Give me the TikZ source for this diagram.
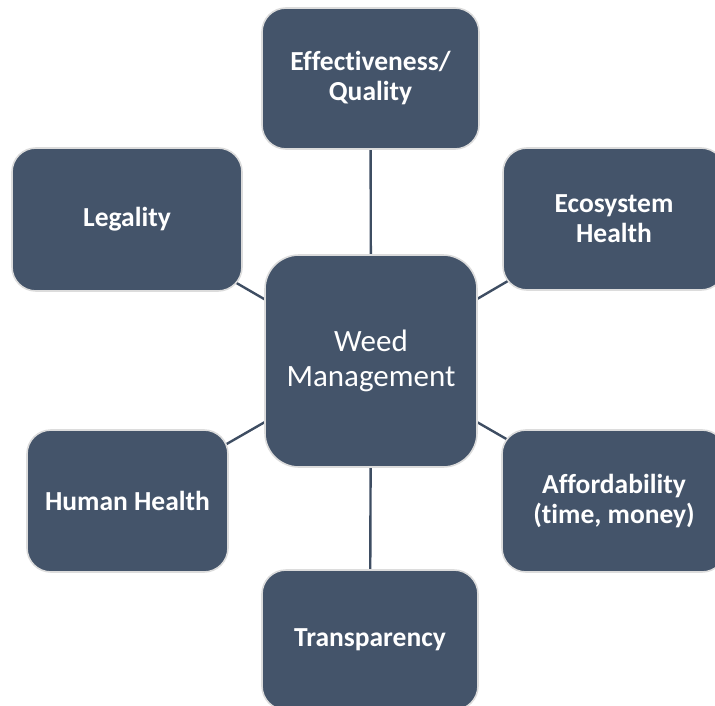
\documentclass[tikz,border=0pt]{standalone}
\usepackage{fontspec}
\setmainfont{Carlito}[Ligatures=NoCommon]
\usetikzlibrary{backgrounds}
\definecolor{boxfill}{HTML}{44546A}
\definecolor{boxedge}{HTML}{DCDCDC}
\definecolor{linkcol}{HTML}{3E4D62}
\tikzset{
  outerbox/.style={draw=boxedge, line width=1.6pt, fill=boxfill, rounded corners=24pt,
    text=white, align=center, inner sep=0pt,
    font=\fontsize{27.5}{30}\selectfont\bfseries},
  centerbox/.style={draw=boxedge, line width=1.6pt, fill=boxfill, rounded corners=34pt,
    text=white, align=center, inner sep=0pt, minimum width=212pt, minimum height=212pt,
    font=\fontsize{31}{35}\selectfont},
  link/.style={draw=linkcol, line width=2.4pt}
}
\begin{document}
\begin{tikzpicture}[x=1pt,y=-1pt]
\useasboundingbox (0,0) rectangle (715,706);
\clip (0,0) rectangle (715,706);
\node[centerbox] (wm) at (371,361) {Weed\\Management};
\node[outerbox, minimum width=217pt, minimum height=141pt] (eff) at (370.5,78.5) {Effectiveness/\\Quality};
\node[outerbox, minimum width=230pt, minimum height=143pt] (leg) at (127,219.5) {Legality};
\node[outerbox, minimum width=222pt, minimum height=142pt] (eco) at (614,219) {Ecosystem\\Health};
\node[outerbox, minimum width=201pt, minimum height=142pt] (hum) at (127.5,501) {Human Health};
\node[outerbox, minimum width=224pt, minimum height=142pt] (aff) at (614,501) {Affordability\\(time, money)};
\node[outerbox, minimum width=216pt, minimum height=140pt] (tra) at (370,640) {Transparency};
\begin{scope}[on background layer]
\draw[link] (wm.center) -- (eff.center);
\draw[link] (wm.center) -- (leg.center);
\draw[link] (wm.center) -- (eco.center);
\draw[link] (wm.center) -- (hum.center);
\draw[link] (wm.center) -- (aff.center);
\draw[link] (wm.center) -- (tra.center);
\end{scope}
\end{tikzpicture}
\end{document}
